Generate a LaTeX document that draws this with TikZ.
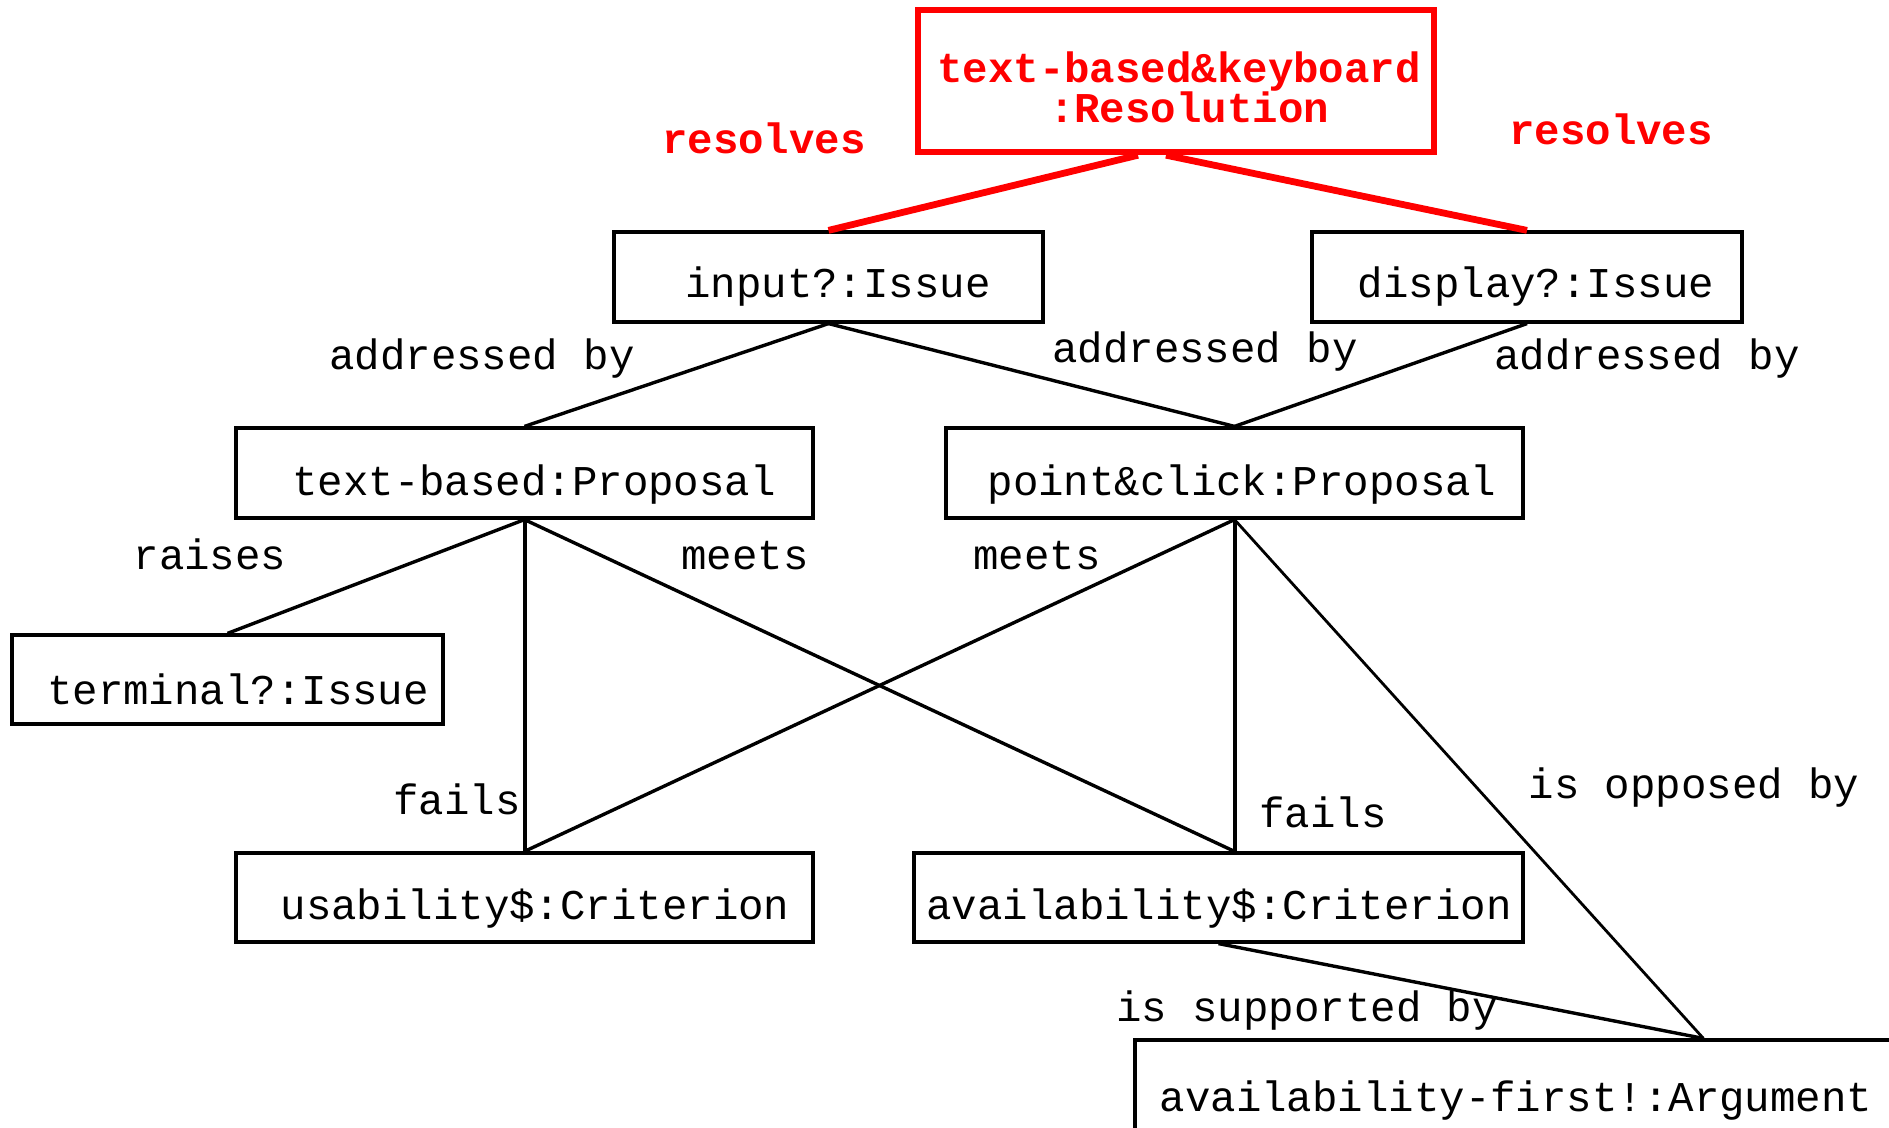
\documentclass[tikz,border=0pt]{standalone}
\usepackage{fontspec}
\usetikzlibrary{calc}
\newfontfamily\diagmono{Liberation Mono}
\definecolor{resred}{RGB}{255,0,0}
\tikzset{
  box/.style={draw, rectangle, inner sep=0pt, line width=1.6pt},
  resbox/.style={draw=resred, rectangle, inner sep=0pt, line width=3.2pt},
  txt/.style={anchor=base, inner sep=0pt, font=\diagmono\fontsize{21.2}{19}\selectfont},
  restxt/.style={txt, text=resred, font=\diagmono\bfseries\fontsize{21.2}{19}\selectfont},
  link/.style={line width=1.7pt},
  thicklink/.style={line width=2pt},
  thinlink/.style={line width=1.4pt},
  reslink/.style={draw=resred, line width=3.4pt}
}
\begin{document}
\begin{tikzpicture}[x=0.5pt,y=-0.5pt]
\clip (0,0) rectangle (1889,1128);
\fill[white] (0,0) rectangle (1889,1128);

% boxes
\node[resbox, minimum width=258pt, minimum height=71pt] (res) at (1176,81) {};
\node[box, minimum width=214.5pt, minimum height=45pt] (inp) at (828.5,277) {};
\node[box, minimum width=215pt, minimum height=45pt] (disp) at (1527,277) {};
\node[box, minimum width=288.5pt, minimum height=45pt] (tb) at (524.5,473) {};
\node[box, minimum width=288.5pt, minimum height=45pt] (pc) at (1234.5,473) {};
\node[box, minimum width=215.5pt, minimum height=44.5pt] (term) at (227.5,679.5) {};
\node[box, minimum width=288.5pt, minimum height=44.5pt] (us) at (524.5,897.5) {};
\node[box, minimum width=304.5pt, minimum height=44.5pt] (av) at (1218.5,897.5) {};
\node[box, minimum width=381pt, minimum height=50pt] (arg) at (1516,1090) {};

% box texts
\node[restxt] (res1) at (1179,83) {text-based\&keyboard};
\node[restxt] (res2) at (1189,123) {:Resolution};
\node[txt] (inpt) at (838,298) {input?:Issue};
\node[txt] (dispt) at (1536,298) {display?:Issue};
\node[txt] (tbt) at (534,495) {text-based:Proposal};
\node[txt] (pct) at (1242,495) {point\&click:Proposal};
\node[txt] (termt) at (238,704) {terminal?:Issue};
\node[txt] (ust) at (535,919) {usability\$:Criterion};
\node[txt] (avt) at (1219,919) {availability\$:Criterion};
\node[txt] (argt) at (1516,1111) {availability-first!:Argument};

% connectors
\draw[reslink] ($(res.south)+(-38,0)$) -- (inp.north);
\draw[reslink] ($(res.south)+(-10,0)$) -- (disp.north);
\draw[link] (inp.south) -- (tb.north);
\draw[link] (inp.south) -- (pc.north);
\draw[link] (disp.south) -- (pc.north);
\draw[link] (tb.south) -- (term.north);
\draw[thicklink] (tb.south) -- (tb.south |- us.north);
\draw[link] (tb.south) -- (pc.south |- av.north);
\draw[link] (pc.south) -- (tb.south |- us.north);
\draw[thicklink] (pc.south) -- (pc.south |- av.north);
\draw[thinlink] (pc.south) -- ($(arg.north west)+(570,0)$);
\draw[link] (av.south) -- ($(arg.north west)+(570,0)$);

% connector labels
\node[restxt] (lres1) at (764,154) {resolves};
\node[restxt] (lres2) at (1611,145) {resolves};
\node[txt] (lad1) at (482,370) {addressed by};
\node[txt] (lad2) at (1205,363) {addressed by};
\node[txt] (lad3) at (1647,370) {addressed by};
\node[txt] (lraise) at (210,569) {raises};
\node[txt] (lmeet1) at (745,569) {meets};
\node[txt] (lmeet2) at (1037,569) {meets};
\node[txt] (lfail1) at (457,814) {fails};
\node[txt] (lfail2) at (1323,827) {fails};
\node[txt] (loppo) at (1694,798) {is opposed by};
\node[txt] (lsupp) at (1307,1021) {is supported by};
\end{tikzpicture}
\end{document}
